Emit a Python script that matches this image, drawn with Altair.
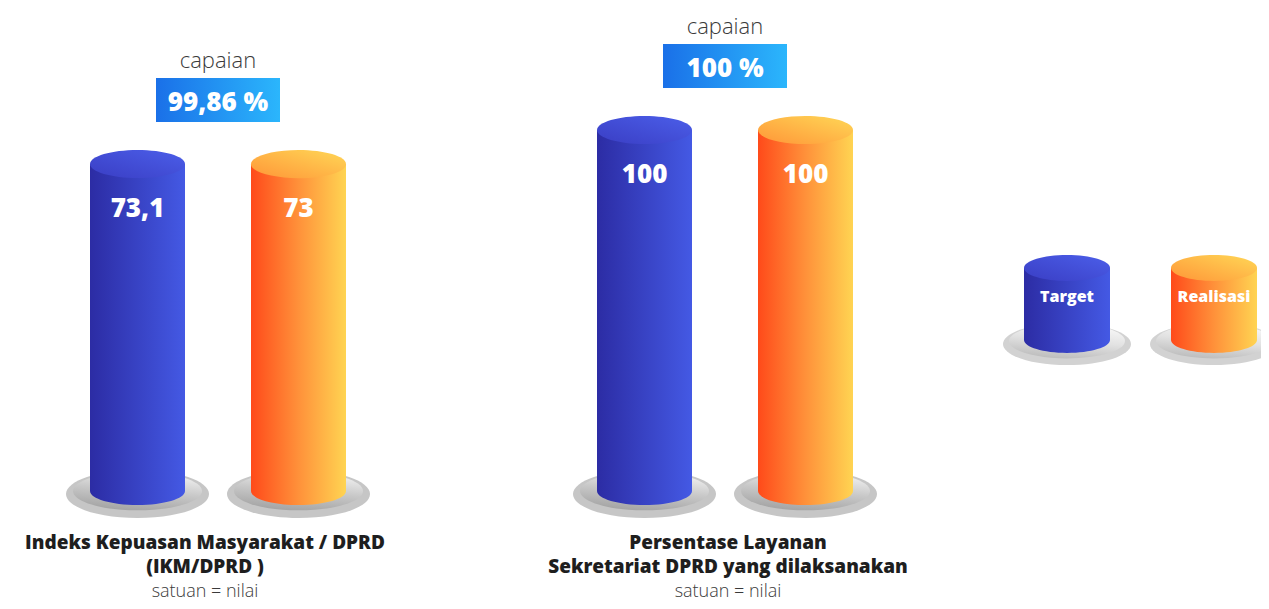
import altair as alt
import pandas as pd

# ---------------- data ----------------
title_line1 = ["Indeks Kepuasan Masyarakat / DPRD", "Persentase Layanan"]
title_line2 = ["(IKM/DPRD )", "Sekretariat DPRD yang dilaksanakan"]
units = ["satuan = nilai", "satuan = nilai"]
series = ["Target", "Realisasi"]
target = [73.1, 100]
realisasi = [73, 100]
target_labels = ["73,1", "100"]
realisasi_labels = ["73", "100"]
capaian = ["99,86 %", "100 %"]

# ---------------- layout (reference pixel space) ----------------
W, H = 1253, 593
OFF = 8
GROUP_X = [218, 725]
TITLE_X = [205, 728]
HALF_GAP = 80.5
CYL_W = 95
BOX_HALF = 62
LEGEND_X = [1067, 1214]

# value scale of the infographic (cylinders are drawn on an offset baseline)
K = 34 / 26.9
V_TOP = 100 + (130 - OFF) / K
V_BOT = 100 - (OFF + H - 130) / K
V_BASE = 100 - (491 - 130) / K

rows = []
for g in range(len(title_line1)):
    for s, (vals, labs) in enumerate([(target, target_labels), (realisasi, realisasi_labels)]):
        xc = GROUP_X[g] + (-HALF_GAP if s == 0 else HALF_GAP)
        rows.append(dict(series=series[s], value=vals[g], label=labs[g],
                         xc=xc, xl=xc - CYL_W / 2, xr=xc + CYL_W / 2))
cyl = pd.DataFrame(rows)

grp = pd.DataFrame(dict(
    xc=GROUP_X, tx=TITLE_X, cap=capaian,
    vmax=[max(a, b) for a, b in zip(target, realisasi)],
    bx1=[x - BOX_HALF for x in GROUP_X], bx2=[x + BOX_HALF for x in GROUP_X],
    title=[a + "\n" + b for a, b in zip(title_line1, title_line2)], unit=units))

leg = pd.DataFrame(dict(series=series, xc=LEGEND_X,
                        xl=[x - 43 for x in LEGEND_X], xr=[x + 43 for x in LEGEND_X]))

xs = alt.Scale(domain=[OFF, OFF + W], range=[0, W], nice=False, zero=False)
ys = alt.Scale(domain=[V_BOT, V_TOP], nice=False, zero=False)


def X(f):
    return alt.X(f, type="quantitative", scale=xs, axis=None)


def X2(f):
    return alt.X2(f)


def Y(f):
    return alt.Y(f, type="quantitative", scale=ys, axis=None)


def ell(r):
    return f"M-1,0A1,{r} 0 1,1 1,0A1,{r} 0 1,1 -1,0Z"


def lin(c0, c1, x1=0, y1=0, x2=1, y2=0, mid=None):
    stops = [alt.GradientStop(color=c0, offset=0)]
    if mid:
        stops.append(alt.GradientStop(color=mid, offset=0.5))
    stops.append(alt.GradientStop(color=c1, offset=1))
    return alt.LinearGradient(gradient="linear", stops=stops, x1=x1, y1=y1, x2=x2, y2=y2)


STYLE = {
    "Target": dict(body=lin("#2c2ca4", "#4459e4"), top=lin("#3a3ec4", "#4b5ee9", y1=1, y2=0)),
    "Realisasi": dict(body=lin("#ff4a1a", "#ffd452", mid="#ff913a"), top=lin("#ff9638", "#ffd756", y1=1, y2=0)),
}

shadow_inner = lin("#f4f4f4", "#a4a4a4", x1=0.7, y1=0, x2=0.4, y2=1, mid="#c9c9c9")
shadow_inner_leg = lin("#fafafa", "#bdbdbd", x1=0.7, y1=0, x2=0.4, y2=1, mid="#e2e2e2")

layers = []

# ---- cylinders ----
base = alt.Chart(cyl)
for s in series:
    st = STYLE[s]
    b = base.transform_filter(alt.datum.series == s)
    layers.append(b.mark_point(shape=ell(0.336), size=143 ** 2, filled=True, fill="#c6c6c6",
                               opacity=1, strokeWidth=0)
                  .encode(x=X("xc"), y=alt.value(494 - OFF)))
    layers.append(b.mark_point(shape=ell(0.30), size=129 ** 2, filled=True, fill=shadow_inner,
                               opacity=1, strokeWidth=0)
                  .encode(x=X("xc"), y=alt.value(491 - OFF)))
    layers.append(b.mark_point(shape=ell(0.295), size=CYL_W ** 2, filled=True, fill=st["body"],
                               opacity=1, strokeWidth=0)
                  .encode(x=X("xc"), y=alt.Y(datum=V_BASE, scale=ys, axis=None)))
    layers.append(b.mark_bar(fill=st["body"], opacity=1)
                  .encode(x=X("xl"), x2=X2("xr"), y=Y("value"), y2=alt.Y2(datum=V_BASE)))
    layers.append(b.mark_point(shape=ell(0.295), size=CYL_W ** 2, filled=True, fill=st["top"],
                               opacity=1, strokeWidth=0)
                  .encode(x=X("xc"), y=Y("value")))

layers.append(base.mark_text(font="Open Sans", fontWeight=800, fontSize=26, color="white",
                             baseline="alphabetic", dy=53)
              .encode(x=X("xc"), y=Y("value"), text="label:N"))

# ---- capaian boxes ----
g = alt.Chart(grp)
layers.append(g.mark_text(text="capaian", font="Open Sans", fontWeight=300, fontSize=22,
                          color="#3a3a3a", baseline="alphabetic", dy=-96)
              .encode(x=X("xc"), y=Y("vmax")))
layers.append(g.mark_rect(fill=lin("#1a70e8", "#2bb6fc"), yOffset=-86, y2Offset=-42)
              .encode(x=X("bx1"), x2=X2("bx2"), y=Y("vmax"), y2=alt.Y2("vmax")))
layers.append(g.mark_text(font="Open Sans", fontWeight=800, fontSize=26, color="white",
                          baseline="alphabetic", dy=-53)
              .encode(x=X("xc"), y=Y("vmax"), text="cap:N"))

# ---- category titles ----
layers.append(g.mark_text(font="Open Sans", fontWeight=800, fontSize=19, color="#1e1e1e",
                          baseline="alphabetic", lineBreak="\n", lineHeight=24)
              .encode(x=X("tx"), y=alt.value(549 - OFF), text="title:N"))
layers.append(g.mark_text(font="Open Sans", fontWeight=300, fontSize=18, color="#3a3a3a",
                          baseline="alphabetic")
              .encode(x=X("tx"), y=alt.value(597 - OFF), text="unit:N"))

# ---- legend ----
lg = alt.Chart(leg)
for s in series:
    st = STYLE[s]
    b = lg.transform_filter(alt.datum.series == s)
    layers.append(b.mark_point(shape=ell(0.33), size=128 ** 2, filled=True, fill="#d2d2d2",
                               opacity=1, strokeWidth=0)
                  .encode(x=X("xc"), y=alt.value(344 - OFF)))
    layers.append(b.mark_point(shape=ell(0.30), size=116 ** 2, filled=True, fill=shadow_inner_leg,
                               opacity=1, strokeWidth=0)
                  .encode(x=X("xc"), y=alt.value(341 - OFF)))
    layers.append(b.mark_point(shape=ell(0.30), size=86 ** 2, filled=True, fill=st["body"],
                               opacity=1, strokeWidth=0)
                  .encode(x=X("xc"), y=alt.value(340 - OFF)))
    layers.append(b.mark_rect(fill=st["body"])
                  .encode(x=X("xl"), x2=X2("xr"), y=alt.value(268 - OFF), y2=alt.value(340 - OFF)))
    layers.append(b.mark_point(shape=ell(0.30), size=86 ** 2, filled=True, fill=st["top"],
                               opacity=1, strokeWidth=0)
                  .encode(x=X("xc"), y=alt.value(268 - OFF)))
layers.append(lg.mark_text(font="Open Sans", fontWeight=800, fontSize=16, color="white",
                           baseline="alphabetic")
              .encode(x=X("xc"), y=alt.value(302 - OFF), text="series:N"))

chart = alt.layer(*layers).properties(
    width=W, height=H, padding=0,
    autosize=alt.AutoSizeParams(type="none"),
).configure_view(stroke=None)

chart.save("out.html", embed_options={"renderer": "svg", "actions": False})
